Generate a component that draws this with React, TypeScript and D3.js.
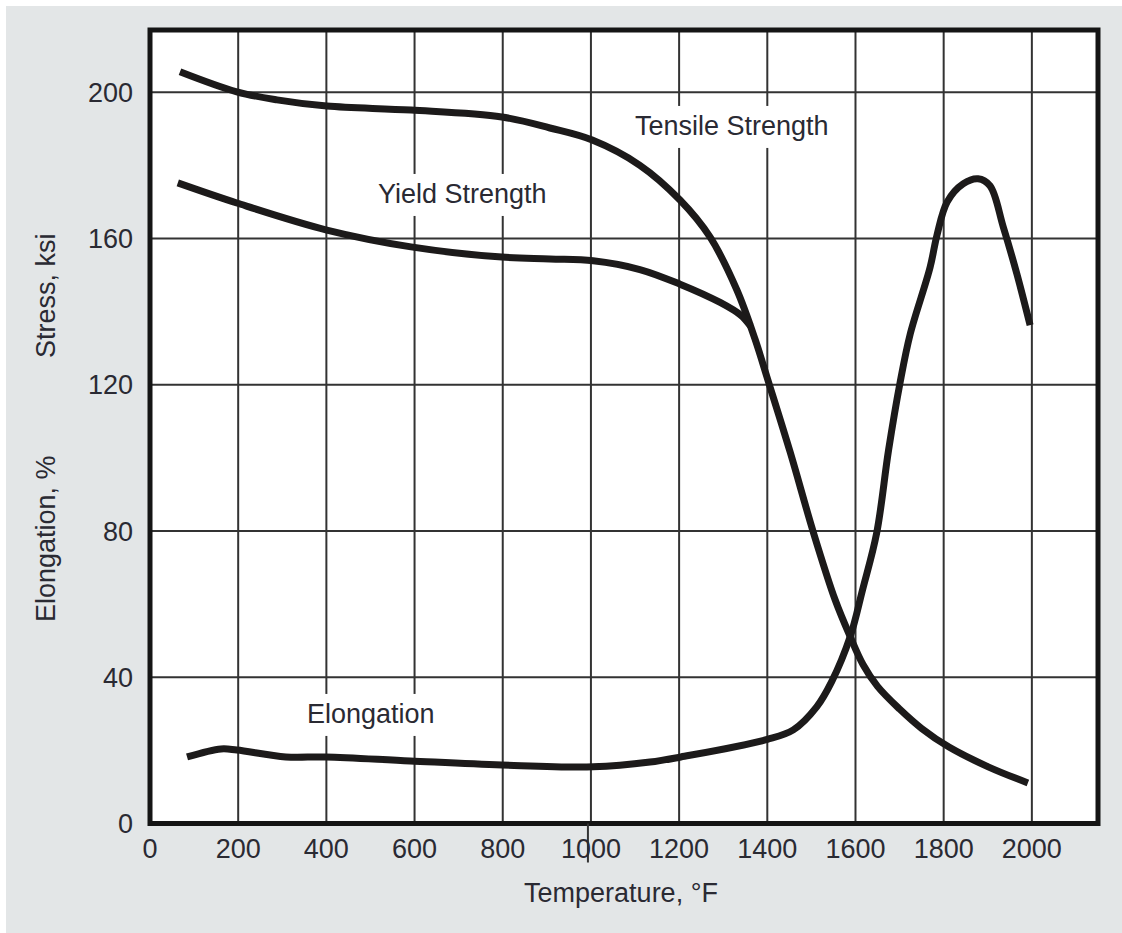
import React, { useEffect, useRef } from 'react';
import * as d3 from 'd3';

// Tensile strength (ksi) vs temperature (°F)
const tensileTemp = [68, 197, 288, 401, 592, 798, 907, 1003, 1111, 1202, 1270, 1331, 1372, 1402, 1452, 1505, 1554, 1588, 1617, 1650, 1700, 1750, 1812, 1901, 1991];
const tensileKsi = [205.6, 200.1, 197.9, 196.2, 195.1, 193.2, 190.2, 186.9, 180, 170.5, 160.4, 145.9, 132.5, 121, 101.5, 79.4, 61.1, 51.1, 43.5, 37.5, 31.3, 26, 20.9, 15.5, 11.1];

// Yield strength (ksi)
const yieldTemp = [63, 197, 401, 592, 798, 907, 1005, 1111, 1202, 1293, 1340, 1362];
const yieldKsi = [175.2, 169.7, 162.3, 157.7, 154.9, 154.4, 153.9, 151.5, 147.5, 142.5, 139, 136];

// Elongation (%)
const elongTemp = [84, 161, 197, 308, 399, 590, 798, 1005, 1134, 1204, 1400, 1459, 1512, 1546, 1588, 1616, 1648, 1675, 1701, 1724, 1769, 1785, 1808, 1844, 1878, 1905, 1935, 1966, 1996];
const elongPct = [18.2, 20.4, 20.1, 18.2, 18.2, 17.1, 16, 15.5, 16.8, 18.2, 23, 25.6, 31.9, 38.8, 51.1, 63.9, 79.4, 102.1, 120.5, 133.8, 152, 161, 170, 174.9, 176.3, 174.4, 163.2, 150.3, 136.3];

const xTicks = [0, 200, 400, 600, 800, 1000, 1200, 1400, 1600, 1800, 2000];
const yTicks = [0, 40, 80, 120, 160, 200];
const xGrid = [200, 400, 600, 800, 1000, 1200, 1400, 1600, 1800, 2000];
const yGrid = [40, 80, 120, 160, 200];

const seriesNames = ['Tensile Strength', 'Yield Strength', 'Elongation'];
const labelTemp = [1100, 517, 356];
const labelValue = [188.3, 169.7, 27.5];

const xTitle = 'Temperature, °F';
const yTitleLower = 'Elongation, %';
const yTitleUpper = 'Stress, ksi';

const FONT = '"Liberation Sans", Arial, Helvetica, sans-serif';

export default function App() {
  const ref = useRef<SVGSVGElement>(null);

  useEffect(() => {
    const W = 1122;
    const H = 933;
    const svg = d3.select(ref.current);
    svg.selectAll('*').remove();

    const x = d3.scaleLinear().domain([0, 2150]).range([150, 1098]);
    const y = d3.scaleLinear().domain([0, 217]).range([823.5, 30]);

    // background
    svg.append('rect').attr('x', 6).attr('y', 6).attr('width', W - 6).attr('height', H - 6).attr('fill', '#e3e6e7');
    svg.append('rect')
      .attr('x', x(0)).attr('y', y(217))
      .attr('width', x(2150) - x(0)).attr('height', y(0) - y(217))
      .attr('fill', '#ffffff');

    // grid
    const grid = svg.append('g').attr('stroke', '#333333').attr('stroke-width', 2);
    grid.selectAll('line.v').data(xGrid).join('line').attr('class', 'v')
      .attr('x1', d => x(d)).attr('x2', d => x(d))
      .attr('y1', y(0)).attr('y2', y(217));
    grid.selectAll('line.h').data(yGrid).join('line').attr('class', 'h')
      .attr('x1', x(0)).attr('x2', x(2150))
      .attr('y1', d => y(d)).attr('y2', d => y(d));

    // series labels with white background (breaking the grid)
    const lab = svg.append('g');
    seriesNames.forEach((name, i) => {
      const gx = x(labelTemp[i]);
      const gy = y(labelValue[i]);
      const bg = lab.append('rect').attr('fill', '#ffffff');
      const t = lab.append('text')
        .attr('x', gx).attr('y', gy)
        .attr('font-family', FONT).attr('font-size', 27)
        .attr('fill', '#2a2a33')
        .text(name);
      const w = (t.node() as SVGTextElement).getComputedTextLength();
      bg.attr('x', gx - 4).attr('y', gy - 29).attr('width', w + 8).attr('height', 42);
    });

    // curves
    const line = d3.line<[number, number]>()
      .x(d => x(d[0])).y(d => y(d[1]))
      .curve(d3.curveCatmullRom.alpha(0.5));
    const curves = [
      tensileTemp.map((t, i) => [t, tensileKsi[i]] as [number, number]),
      yieldTemp.map((t, i) => [t, yieldKsi[i]] as [number, number]),
      elongTemp.map((t, i) => [t, elongPct[i]] as [number, number]),
    ];
    svg.append('g').selectAll('path').data(curves).join('path')
      .attr('d', d => line(d))
      .attr('fill', 'none')
      .attr('stroke', '#1c1a1a')
      .attr('stroke-width', 7)
      .attr('stroke-linejoin', 'round')
      .attr('stroke-linecap', 'butt');

    // frame
    svg.append('rect')
      .attr('x', x(0)).attr('y', y(217))
      .attr('width', x(2150) - x(0)).attr('height', y(0) - y(217))
      .attr('fill', 'none').attr('stroke', '#151515').attr('stroke-width', 5);

    // small tick mark through the 1000 label
    svg.append('line')
      .attr('x1', x(1000) - 3).attr('x2', x(1000) - 3)
      .attr('y1', y(0)).attr('y2', y(0) + 39)
      .attr('stroke', '#333333').attr('stroke-width', 2);

    // tick labels
    svg.append('g').selectAll('text').data(xTicks).join('text')
      .attr('x', d => x(d)).attr('y', 858)
      .attr('text-anchor', 'middle')
      .attr('font-family', FONT).attr('font-size', 27).attr('fill', '#2a2a33')
      .text(d => String(d));
    svg.append('g').selectAll('text').data(yTicks).join('text')
      .attr('x', 133).attr('y', d => y(d))
      .attr('dy', '0.36em')
      .attr('text-anchor', 'end')
      .attr('font-family', FONT).attr('font-size', 27).attr('fill', '#2a2a33')
      .text(d => String(d));

    // axis titles
    svg.append('text')
      .attr('x', 621).attr('y', 902)
      .attr('text-anchor', 'middle')
      .attr('font-family', FONT).attr('font-size', 27).attr('fill', '#2a2a33')
      .text(xTitle);
    svg.append('text')
      .attr('transform', 'translate(55,622) rotate(-90)')
      .attr('text-anchor', 'start')
      .attr('font-family', FONT).attr('font-size', 27).attr('fill', '#2a2a33')
      .text(yTitleLower);
    svg.append('text')
      .attr('transform', 'translate(55,358) rotate(-90)')
      .attr('text-anchor', 'start')
      .attr('font-family', FONT).attr('font-size', 27).attr('fill', '#2a2a33')
      .text(yTitleUpper);
  }, []);

  return (
    <svg
      ref={ref}
      width={1122}
      height={933}
      style={{ position: 'absolute', left: 0, top: 0, display: 'block', background: '#ffffff' }}
    />
  );
}
